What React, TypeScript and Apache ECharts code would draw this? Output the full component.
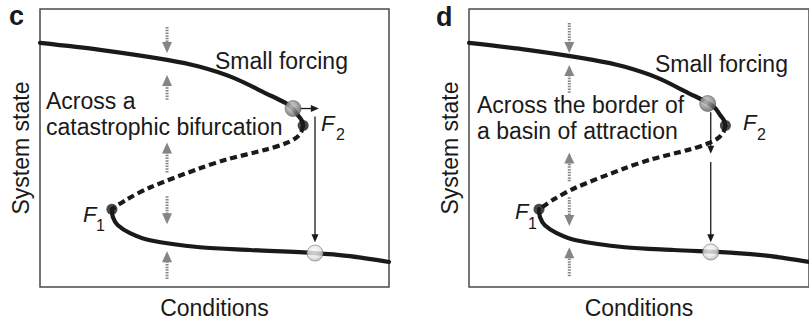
import React, { useEffect, useRef } from "react";
import * as echarts from "echarts";

// ---- Data (abstract units: Conditions 0–100, System state 0–100) ----
const upperBranch: number[][] = [
  [0, 87.8], [17.2, 85.3], [36.4, 81.7], [45.8, 79.2], [55.3, 75.3],
  [65.0, 69.5], [70.2, 66.3], [72.5, 64.2], [73.9, 61.8], [75.0, 59.9], [75.4, 58.1],
];
const unstableBranch: number[][] = [
  [75.4, 58.1], [74.8, 55.6], [73.1, 53.4], [70.2, 51.6], [65.0, 49.5],
  [53.6, 45.9], [45.8, 42.7], [31.5, 35.8], [24.9, 31.5], [20.6, 28.0],
];
const lowerBranch: number[][] = [
  [20.6, 28.0], [20.9, 25.1], [22.3, 22.2], [25.8, 19.4], [31.5, 16.8],
  [45.8, 14.3], [60.2, 13.3], [78.8, 12.2], [88.8, 11.1], [100, 9.0],
];
const foldPoints: number[][] = [[20.6, 28.0], [75.4, 58.1]];

const stateBeforeC: number[] = [72.5, 64.2];
const stateAfterC: number[] = [78.8, 12.2];
const stateBeforeD: number[] = [70.2, 66.0];
const stateAfterD: number[] = [71.1, 12.6];

// gray stability arrows: [x, tailY, tipY]
const stabilityArrowsC: number[][] = [
  [36.4, 93.5, 84.2], [36.4, 67.4, 76.3], [36.4, 41.2, 52.0], [36.4, 32.6, 22.6], [36.4, 2.9, 12.9],
];
const stabilityArrowsD: number[][] = [
  [29.5, 95.0, 84.2], [29.5, 69.9, 79.9], [29.5, 38.0, 48.4], [29.5, 32.3, 21.9], [29.5, 3.9, 14.3],
];
// black transition arrows: [x1, y1, x2, y2]
const transitionArrowsC: number[][] = [
  [74.6, 64.2, 79.9, 64.2],
  [78.8, 61.3, 78.8, 16.1],
];
const transitionArrowsD: number[][] = [
  [71.1, 62.9, 71.1, 47.9],
  [71.1, 45.0, 71.1, 16.1],
];

const FONT = "'Liberation Sans', Arial, Helvetica, sans-serif";
const INK = "#1a1a1a";
const GRAY = "#858585";

function arrowRenderer(color: string, width: number, dash: number[] | null, headLen: number, headW: number) {
  return (params: any, api: any) => {
    const p1 = api.coord([api.value(0), api.value(1)]);
    const p2 = api.coord([api.value(2), api.value(3)]);
    const dx = p2[0] - p1[0];
    const dy = p2[1] - p1[1];
    const len = Math.hypot(dx, dy) || 1;
    const ux = dx / len;
    const uy = dy / len;
    const bx = p2[0] - ux * headLen;
    const by = p2[1] - uy * headLen;
    const nx = -uy;
    const ny = ux;
    return {
      type: "group",
      children: [
        {
          type: "line",
          shape: { x1: p1[0], y1: p1[1], x2: bx + ux, y2: by + uy },
          style: { stroke: color, lineWidth: width, lineDash: dash || undefined, fill: null },
        },
        {
          type: "polygon",
          shape: {
            points: [
              [p2[0], p2[1]],
              [bx + (nx * headW) / 2, by + (ny * headW) / 2],
              [bx - (nx * headW) / 2, by - (ny * headW) / 2],
            ],
          },
          style: { fill: color, stroke: null },
        },
      ],
    };
  };
}

function panelSeries(idx: number, before: number[], after: number[], stab: number[][], trans: number[][]) {
  const axis = { xAxisIndex: idx, yAxisIndex: idx };
  return [
    {
      type: "line", ...axis, data: upperBranch, smooth: 0.3, symbol: "none", z: 3,
      lineStyle: { color: INK, width: 4.2, cap: "round" },
    },
    {
      type: "line", ...axis, data: unstableBranch, smooth: 0.3, symbol: "none", z: 3,
      lineStyle: { color: INK, width: 4.2, type: [7, 4] },
    },
    {
      type: "line", ...axis, data: lowerBranch, smooth: 0.3, symbol: "none", z: 3,
      lineStyle: { color: INK, width: 4.2, cap: "round" },
    },
    {
      type: "scatter", ...axis, data: foldPoints, symbol: "circle", symbolSize: 11, z: 5,
      itemStyle: { color: INK },
    },
    {
      type: "custom", ...axis, z: 4,
      data: stab.map((a) => [a[0], a[1], a[0], a[2]]),
      encode: { x: [0, 2], y: [1, 3] },
      renderItem: arrowRenderer(GRAY, 3, [1.5, 1.2], 11, 10),
    },
    {
      type: "custom", ...axis, z: 4,
      data: trans,
      encode: { x: [0, 2], y: [1, 3] },
      renderItem: arrowRenderer(INK, 1.3, null, 8, 7),
    },
    {
      type: "scatter", ...axis, data: [before], symbol: "circle", symbolSize: 16, z: 6,
      itemStyle: {
        color: new echarts.graphic.RadialGradient(0.4, 0.38, 0.65, [
          { offset: 0, color: "#d6d6d6" },
          { offset: 0.6, color: "#8a8a8a" },
          { offset: 1, color: "#5a5a5a" },
        ]),
        borderColor: "#555",
        borderWidth: 0.6,
      },
    },
    {
      type: "scatter", ...axis, data: [after], symbol: "circle", symbolSize: 16, z: 6,
      itemStyle: {
        color: new echarts.graphic.RadialGradient(0.45, 0.4, 0.65, [
          { offset: 0, color: "#ffffff" },
          { offset: 0.6, color: "#e4e4e4" },
          { offset: 1, color: "#a8a8a8" },
        ]),
        borderColor: "#777",
        borderWidth: 0.8,
      },
    },
  ];
}

function txt(text: string, x: number, y: number, size: number, extra: any = {}) {
  return {
    type: "text",
    x,
    y,
    style: {
      text,
      fontSize: size,
      fontFamily: FONT,
      fill: INK,
      verticalAlign: "middle",
      align: "left",
      ...extra,
    },
    z: 10,
  };
}

export default function App() {
  const ref = useRef<HTMLDivElement>(null);
  useEffect(() => {
    if (!ref.current) return;
    const chart = echarts.init(ref.current, null, { renderer: "svg" });
    const axisCommon = {
      type: "value",
      min: 0,
      max: 100,
      axisLine: { show: false },
      axisTick: { show: false },
      axisLabel: { show: false },
      splitLine: { show: false },
      nameLocation: "middle",
      nameTextStyle: { fontSize: 23, fontFamily: FONT, color: INK },
    };
    const grids = [
      { left: 40, top: 9, width: 349, height: 279 },
      { left: 469, top: 9, width: 349, height: 279 },
    ].map((g) => ({ ...g, show: true, borderColor: "#4a4a4a", borderWidth: 1.5, backgroundColor: "transparent" }));
    const option: any = {
      animation: false,
      backgroundColor: "#ffffff",
      grid: grids,
      xAxis: [0, 1].map((i) => ({ ...axisCommon, gridIndex: i, name: "Conditions", nameGap: 9 })),
      yAxis: [0, 1].map((i) => ({ ...axisCommon, gridIndex: i, name: "System state", nameGap: 8, nameRotate: 90 })),
      series: [
        ...panelSeries(0, stateBeforeC, stateAfterC, stabilityArrowsC, transitionArrowsC),
        ...panelSeries(1, stateBeforeD, stateAfterD, stabilityArrowsD, transitionArrowsD),
      ],
      graphic: [
        txt("c", 9, 16, 27, { fontWeight: "bold" }),
        txt("d", 436, 17, 27, { fontWeight: "bold" }),
        txt("Small forcing", 215, 61, 23),
        txt("Across a", 46, 101, 23),
        txt("catastrophic bifurcation", 46, 127, 23),
        txt("Small forcing", 655, 64, 23),
        txt("Across the border of", 477, 105, 23),
        txt("a basin of attraction", 477, 131, 23),
        txt("F", 321, 123.4, 22, { fontStyle: "italic" }),
        txt("2", 336, 134.5, 16),
        txt("F", 83, 214.4, 22, { fontStyle: "italic" }),
        txt("1", 96, 225.5, 16),
        txt("F", 515, 211.4, 22, { fontStyle: "italic" }),
        txt("1", 528, 223.5, 16),
        txt("F", 743, 122.4, 22, { fontStyle: "italic" }),
        txt("2", 757, 134.5, 16),
      ],
    };
    chart.setOption(option);
    return () => chart.dispose();
  }, []);
  return (
    <div
      ref={ref}
      style={{ position: "absolute", left: 0, top: 0, width: 809, height: 324, overflow: "hidden" }}
    />
  );
}
